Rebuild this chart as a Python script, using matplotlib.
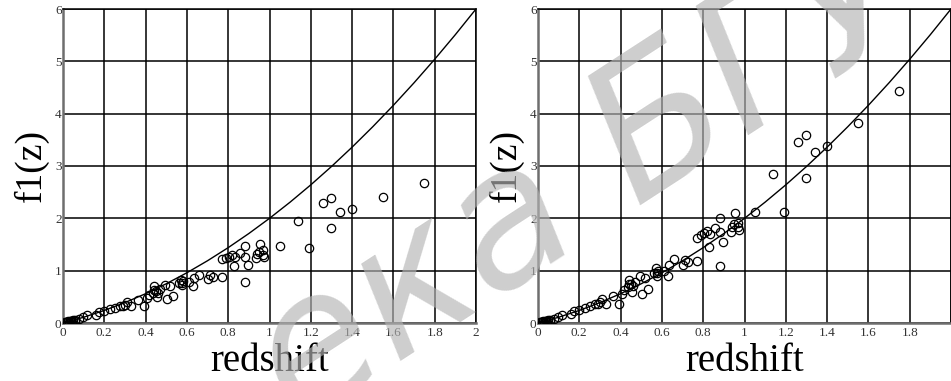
import matplotlib
matplotlib.use("Agg")
import matplotlib.pyplot as plt

# ---- data ----
redshift = [1.75, 1.55, 1.30, 1.26, 1.34, 1.40, 1.30, 1.14, 1.19, 1.05,
            0.953, 0.882, 0.97, 0.94, 0.975, 0.935, 0.882, 0.896, 0.882, 0.855,
            0.83, 0.835, 0.82, 0.805, 0.79, 0.77, 0.768, 0.728, 0.712, 0.70,
            0.66, 0.635, 0.628, 0.61, 0.575, 0.57, 0.578, 0.535, 0.502, 0.518,
            0.495, 0.47, 0.455, 0.443, 0.44, 0.435, 0.418, 0.405, 0.392, 0.365,
            0.33, 0.308, 0.29, 0.278, 0.25, 0.228, 0.175, 0.158, 0.118, 0.098,
            0.076, 0.058, 0.048, 0.04, 0.033, 0.026, 0.02, 0.015, 0.01, 0.06,
            0.045, 0.03, 0.45, 0.46, 0.30, 0.20, 0.56, 0.58, 0.97, 0.95]

f1_left = [2.68, 2.40, 2.38, 2.29, 2.13, 2.18, 1.82, 1.95, 1.44, 1.48,
           1.51, 1.47, 1.40, 1.32, 1.26, 1.25, 1.26, 1.11, 0.79, 1.33,
           1.08, 1.26, 1.29, 1.27, 1.25, 1.22, 0.87, 0.88, 0.91, 0.85,
           0.92, 0.86, 0.70, 0.78, 0.77, 0.83, 0.72, 0.52, 0.45, 0.70,
           0.73, 0.65, 0.50, 0.70, 0.63, 0.57, 0.54, 0.47, 0.33, 0.44,
           0.32, 0.40, 0.33, 0.32, 0.29, 0.26, 0.21, 0.16, 0.15, 0.11,
           0.08, 0.06, 0.05, 0.04, 0.035, 0.03, 0.025, 0.02, 0.012, 0.04,
           0.02, 0.015, 0.62, 0.58, 0.35, 0.22, 0.76, 0.80, 1.30, 1.36]

f1_right = [4.44, 3.83, 3.60, 3.46, 3.27, 3.38, 2.77, 2.85, 2.13, 2.13,
            2.10, 2.01, 1.92, 1.84, 1.78, 1.73, 1.73, 1.54, 1.09, 1.82,
            1.46, 1.71, 1.75, 1.72, 1.68, 1.62, 1.18, 1.16, 1.20, 1.11,
            1.22, 1.10, 0.89, 1.00, 0.96, 1.06, 0.90, 0.65, 0.55, 0.86,
            0.90, 0.79, 0.59, 0.83, 0.75, 0.68, 0.64, 0.56, 0.37, 0.52,
            0.37, 0.46, 0.37, 0.37, 0.32, 0.29, 0.23, 0.17, 0.16, 0.12,
            0.08, 0.06, 0.05, 0.04, 0.035, 0.03, 0.025, 0.02, 0.012, 0.04,
            0.02, 0.015, 0.74, 0.70, 0.40, 0.24, 0.95, 1.00, 1.83, 1.90]

# model curve f1(z) read at z steps
curve_z = [0.0, 0.1, 0.2, 0.3, 0.4, 0.5, 0.6, 0.7, 0.8, 0.9, 1.0,
           1.1, 1.2, 1.3, 1.4, 1.5, 1.6, 1.7, 1.8, 1.9, 2.0]
curve_f = [0.0, 0.11, 0.24, 0.39, 0.56, 0.75, 0.96, 1.19, 1.44, 1.71, 2.0,
           2.31, 2.64, 2.99, 3.36, 3.75, 4.16, 4.59, 5.04, 5.51, 6.0]

x_ticks = [0, 0.2, 0.4, 0.6, 0.8, 1, 1.2, 1.4, 1.6, 1.8, 2]
x_labels_left = ["0", "0.2", "0.4", "0.6", "0.8", "1", "1.2", "1.4", "1.6", "1.8", "2"]
x_labels_right = ["0", "0.2", "0.4", "0.6", "0.8", "1", "1.2", "1.4", "1.6", "1.8", ""]
y_ticks = [0, 1, 2, 3, 4, 5, 6]
y_labels = ["0", "1", "2", "3", "4", "5", "6"]

plt.rcParams["font.family"] = ["Liberation Serif", "DejaVu Serif"]

fig = plt.figure(figsize=(9.51, 3.81), dpi=100)
W, H = 951.0, 381.0
ax_top = 9
ax_bot = 323
boxes = [(63, 476), (538, 951)]
series = [f1_left, f1_right]
xlabs = [x_labels_left, x_labels_right]

for (x0, x1), fvals, xl in zip(boxes, series, xlabs):
    ax = fig.add_axes([x0 / W, 1 - ax_bot / H, (x1 - x0) / W, (ax_bot - ax_top) / H])
    ax.set_xlim(0, 2)
    ax.set_ylim(0, 6)
    ax.set_xticks(x_ticks)
    ax.set_xticklabels(xl)
    ax.set_yticks(y_ticks)
    ax.set_yticklabels(y_labels)
    ax.grid(True, color="black", linewidth=1.1)
    ax.set_axisbelow(True)
    for s in ("top", "right"):
        ax.spines[s].set_color("black")
        ax.spines[s].set_linewidth(1.1)
    for s in ("left", "bottom"):
        ax.spines[s].set_color("#6e6e6e")
        ax.spines[s].set_linewidth(1.8)
    ax.tick_params(length=0, labelsize=9.5, labelcolor="#333333", pad=3)
    ax.tick_params(axis="y", pad=1)
    ax.plot(curve_z, curve_f, color="black", linewidth=1.0, zorder=3)
    ax.plot(redshift, fvals, linestyle="none", marker="o", markersize=6.0,
            markerfacecolor="none", markeredgecolor="black", markeredgewidth=0.9,
            zorder=4)
    ax.set_xlabel("redshift", fontsize=28, labelpad=3)
    ax.set_ylabel("f1(z)", fontsize=27, labelpad=4)

fig.text(585 / W, 1 - 180 / H, "ека БГУ", rotation=33, fontsize=135,
         fontstyle="italic", family=["DejaVu Sans"], color="#b4b4b4", alpha=0.65,
         ha="center", va="center", zorder=10)

fig.savefig("out.png", dpi=100)
